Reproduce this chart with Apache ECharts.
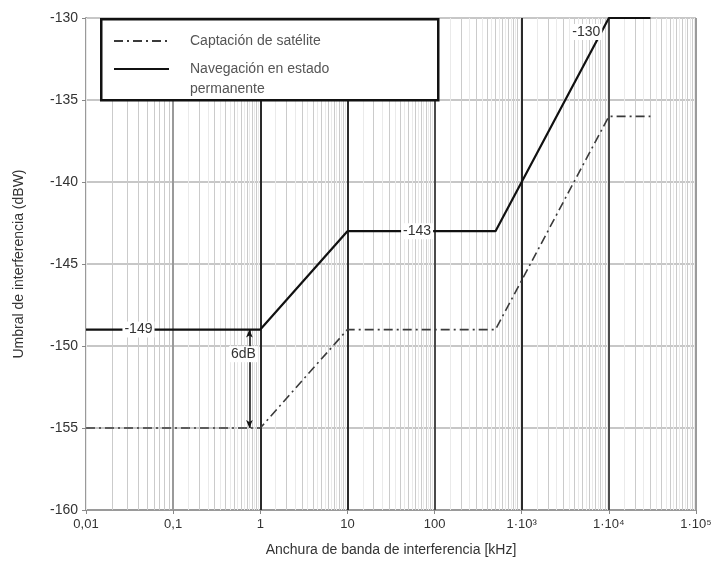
<!DOCTYPE html>
<html><head><meta charset="utf-8">
<script src="https://cdn.jsdelivr.net/npm/echarts@6/dist/echarts.min.js"></script>
<style>html,body{margin:0;padding:0;background:#fff}#c{width:718px;height:567px}</style>
</head><body><div id="c"></div>
<script>
// ---- data ----
const decadeValues = [0.01, 0.1, 1, 10, 100, 1000, 10000, 100000];
const xTickLabels = ['0,01', '0,1', '1', '10', '100', '1·10³', '1·10⁴', '1·10⁵'];
const minorMultipliers = [2, 3, 4, 5, 6, 7, 8, 9];
const halfMultipliers = [1.5, 2.5, 3.5, 4.5, 5.5, 6.5, 7.5, 8.5, 9.5];
const yTicks = [-160, -155, -150, -145, -140, -135, -130];

const acqName = 'Captación de satélite';
const acqX = [0.01, 1, 10, 500, 10000, 30000];
const acqY = [-155, -155, -149, -149, -136, -136];

const navName = 'Navegación en estado\npermanente';
const navX = [0.01, 1, 10, 500, 10000, 30000];
const navY = [-149, -149, -143, -143, -130, -130];

const valueLabels = [
  { x: 0.04, y: -149, text: '-149' },
  { x: 63, y: -143, text: '-143' },
  { x: 5500, y: -130.85, text: '-130' }
];
const gapArrow = { x: 0.75, from: -149, to: -155 };
const gapLabel = { x: 0.64, y: -150.5, text: '6dB' };

// ---- build ----
const pairs = (xs, ys) => xs.map((x, i) => [x, ys[i]]);
const darkDecades = [1, 10, 1000];
const midDecades = [100, 10000];
const gridLines = [];
decadeValues.slice(0, -1).forEach(d => {
  halfMultipliers.forEach(m => gridLines.push({ xAxis: d * m, lineStyle: { color: '#eaeaea', width: 1, type: 'solid' } }));
  minorMultipliers.forEach(m => gridLines.push({ xAxis: d * m, lineStyle: { color: '#cbcbcb', width: 1, type: 'solid' } }));
});
decadeValues.forEach(d => {
  if (d === 0.01) return;
  let c = '#9a9a9a';
  if (darkDecades.indexOf(d) >= 0) c = '#2a2a2a';
  else if (midDecades.indexOf(d) >= 0) c = '#4a4a4a';
  gridLines.push({ xAxis: d, lineStyle: { color: c, width: 2, type: 'solid' } });
});

const font = 'Liberation Sans, Arial, sans-serif';
const legendCommon = {
  orient: 'vertical', left: 113, padding: 0, itemWidth: 55, itemHeight: 14,
  itemStyle: { opacity: 0, borderWidth: 0 },
  textStyle: { fontFamily: font, fontSize: 14, color: '#555', lineHeight: 20, padding: [0, 0, 0, 16] },
  z: 21
};
const chart = echarts.init(document.getElementById('c'));
chart.setOption({
  animation: false,
  backgroundColor: '#fff',
  grid: { left: 86, right: 22, top: 18, bottom: 57, containLabel: false },
  xAxis: {
    type: 'log', logBase: 10, min: 0.01, max: 100000, splitNumber: 7,
    name: 'Anchura de banda de interferencia [kHz]', nameLocation: 'middle', nameGap: 33,
    nameTextStyle: { fontFamily: font, fontSize: 14, color: '#333' },
    axisLine: { show: true, lineStyle: { color: '#9a9a9a', width: 2 } },
    axisTick: { show: true, length: 4, lineStyle: { color: '#888' } },
    axisLabel: {
      fontFamily: font, fontSize: 13, color: '#333', margin: 8,
      formatter: v => { const i = Math.round(Math.log10(v)) + 2; return xTickLabels[i] !== undefined ? xTickLabels[i] : ''; }
    },
    splitLine: { show: false }
  },
  yAxis: {
    type: 'value', min: yTicks[0], max: yTicks[yTicks.length - 1], interval: 5,
    name: 'Umbral de interferencia (dBW)', nameLocation: 'middle', nameGap: 60, nameRotate: 90,
    nameTextStyle: { fontFamily: font, fontSize: 14, color: '#333' },
    axisLine: { show: true, lineStyle: { color: '#9a9a9a', width: 2 } },
    axisTick: { show: true, length: 4, lineStyle: { color: '#888' } },
    axisLabel: { fontFamily: font, fontSize: 14, color: '#333', margin: 8 },
    splitLine: { show: true, lineStyle: { color: '#b4b4b4', width: 1.5 } }
  },
  legend: [
    Object.assign({}, legendCommon, { data: [acqName], top: 31 }),
    Object.assign({}, legendCommon, { data: [navName], top: 39, formatter: n => '\u00a0\n' + n })
  ],
  graphic: {
    elements: [
      { type: 'rect', left: 100, top: 18, z: 20, shape: { width: 337, height: 81 },
        style: { fill: '#fff', stroke: '#111', lineWidth: 2.5 } }
    ]
  },
  series: [
    {
      name: 'grid', type: 'line', data: [], z: 1, silent: true,
      markLine: { silent: true, z: 1, symbol: 'none', label: { show: false }, animation: false,
        lineStyle: { type: 'solid' }, data: gridLines }
    },
    {
      name: acqName, type: 'line', data: pairs(acqX, acqY), symbol: 'none', z: 3,
      lineStyle: { color: '#3a3a3a', width: 1.6, type: [9, 4, 2, 4] },
      itemStyle: { color: '#3a3a3a' }
    },
    {
      name: navName, type: 'line', data: pairs(navX, navY), symbol: 'none', z: 4,
      lineStyle: { color: '#111', width: 2.2 },
      itemStyle: { color: '#111' },
      markPoint: {
        symbol: 'rect', symbolSize: 1, itemStyle: { color: 'rgba(0,0,0,0)' }, silent: true, z: 6,
        label: { show: true, position: 'inside', formatter: p => p.name, fontFamily: font, fontSize: 14,
          color: '#333', backgroundColor: '#fff', padding: [1, 2] },
        data: valueLabels.map(l => ({ name: l.text, coord: [l.x, l.y] }))
          .concat([{ name: gapLabel.text, coord: [gapLabel.x, gapLabel.y] }])
      },
      markLine: {
        silent: true, z: 5, symbol: ['arrow', 'arrow'], symbolSize: [5, 8], label: { show: false },
        lineStyle: { color: '#111', width: 1.5, type: 'solid' },
        data: [[{ coord: [gapArrow.x, gapArrow.from] }, { coord: [gapArrow.x, gapArrow.to] }]]
      }
    }
  ]
});
</script></body></html>
